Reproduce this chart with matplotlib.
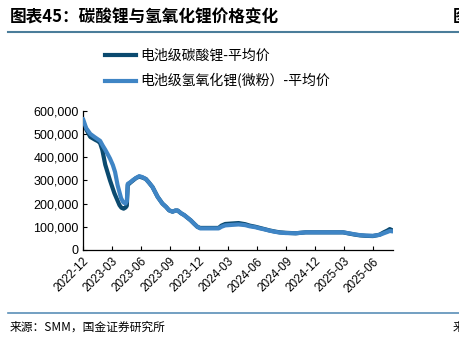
import matplotlib
matplotlib.use("Agg")
import matplotlib.pyplot as plt
import matplotlib.dates as mdates
import pandas as pd
from matplotlib.lines import Line2D

plt.rcParams['font.family'] = ['Liberation Sans', 'Noto Sans CJK SC', 'DejaVu Sans']

# 电池级碳酸锂 - 平均价 (元/吨)
carb_dates = ["2022-12-01", "2022-12-11", "2022-12-24", "2023-01-08", "2023-01-18", "2023-01-24",
              "2023-01-31", "2023-02-09", "2023-02-24", "2023-03-10", "2023-03-26", "2023-04-01",
              "2023-04-08", "2023-04-14", "2023-04-18", "2023-04-21", "2023-04-29", "2023-05-08",
              "2023-05-17", "2023-05-27", "2023-06-06", "2023-06-17", "2023-06-27", "2023-07-08",
              "2023-07-16", "2023-07-24", "2023-08-08", "2023-08-20", "2023-08-29", "2023-09-09",
              "2023-09-18", "2023-09-25", "2023-10-06", "2023-10-16", "2023-10-25", "2023-11-05",
              "2023-11-16", "2023-11-26", "2023-12-05", "2024-01-02", "2024-02-01", "2024-02-10",
              "2024-02-22", "2024-03-13", "2024-04-04", "2024-04-25", "2024-05-09", "2024-05-27",
              "2024-06-10", "2024-06-27", "2024-07-11", "2024-07-29", "2024-08-12", "2024-08-30",
              "2024-10-01", "2024-11-01", "2024-11-28", "2025-01-18", "2025-02-27", "2025-03-21",
              "2025-04-06", "2025-04-21", "2025-05-10", "2025-06-01", "2025-06-22", "2025-07-05",
              "2025-07-17", "2025-07-24", "2025-08-02"]
carb_price = [550000, 520000, 487000, 475000, 468000, 460000,
              430000, 368000, 300000, 244000, 193000, 182000,
              178000, 183000, 190000, 280000, 290000, 300000,
              310000, 316000, 312000, 306000, 290000, 271000,
              250000, 229000, 200000, 185000, 171000, 165000,
              170000, 170000, 158000, 150000, 140000, 128000,
              113000, 100000, 95000, 95000, 95000, 105000,
              112000, 114000, 116000, 111000, 105000, 100000,
              95000, 89000, 84000, 79000, 76000, 74000,
              72000, 76000, 76000, 76000, 76000, 70000,
              66000, 63000, 61000, 60000, 66000, 76000,
              84000, 90000, 84000]

# 电池级氢氧化锂(微粉) - 平均价 (元/吨)
hyd_dates = ["2022-12-01", "2022-12-11", "2022-12-24", "2023-01-08", "2023-01-24", "2023-02-01",
             "2023-02-09", "2023-02-17", "2023-02-24", "2023-03-05", "2023-03-12", "2023-03-20",
             "2023-03-31", "2023-04-07", "2023-04-14", "2023-04-18", "2023-04-21", "2023-04-29",
             "2023-05-08", "2023-05-17", "2023-05-27", "2023-06-06", "2023-06-17", "2023-06-27",
             "2023-07-08", "2023-07-16", "2023-07-24", "2023-08-08", "2023-08-20", "2023-08-29",
             "2023-09-09", "2023-09-18", "2023-09-25", "2023-10-06", "2023-10-16", "2023-10-25",
             "2023-11-05", "2023-11-16", "2023-11-26", "2023-12-05", "2024-01-02", "2024-02-01",
             "2024-02-10", "2024-02-22", "2024-03-13", "2024-04-04", "2024-04-25", "2024-05-09",
             "2024-05-27", "2024-06-10", "2024-06-27", "2024-07-11", "2024-07-29", "2024-08-12",
             "2024-08-30", "2024-10-01", "2024-11-01", "2024-11-28", "2025-01-18", "2025-02-27",
             "2025-03-21", "2025-04-06", "2025-04-21", "2025-05-10", "2025-06-01", "2025-06-22",
             "2025-07-05", "2025-07-17", "2025-07-24", "2025-08-02"]
hyd_price = [565000, 525000, 500000, 485000, 470000, 450000,
             432000, 412000, 394000, 366000, 336000, 279000,
             223000, 205000, 200000, 210000, 285000, 292000,
             302000, 310000, 318000, 314000, 305000, 290000,
             271000, 250000, 229000, 200000, 185000, 171000,
             165000, 170000, 170000, 158000, 150000, 140000,
             128000, 113000, 100000, 93000, 93000, 93000,
             100000, 106000, 108000, 110000, 107000, 102000,
             98000, 93000, 88000, 83000, 78000, 75000,
             73000, 72000, 76000, 76000, 76000, 76000,
             71000, 67000, 64000, 62000, 61000, 65000,
             72000, 78000, 82000, 80000]

series_names = ["电池级碳酸锂-平均价", "电池级氢氧化锂(微粉）-平均价"]
series_colors = ["#0b4a6f", "#3f85c5"]

yticks = [0, 100000, 200000, 300000, 400000, 500000, 600000]
xtick_labels = ["2022-12", "2023-03", "2023-06", "2023-09", "2023-12", "2024-03",
                "2024-06", "2024-09", "2024-12", "2025-03", "2025-06"]

fig = plt.figure(figsize=(4.59, 3.37), dpi=100)
ax = fig.add_axes([0.1808, 0.2582, 0.676, 0.4133])

ax.plot(pd.to_datetime(carb_dates), carb_price, color=series_colors[0], lw=3,
        solid_capstyle='round', zorder=2)
ax.plot(pd.to_datetime(hyd_dates), hyd_price, color=series_colors[1], lw=3,
        solid_capstyle='round', zorder=3)

ax.set_xlim(pd.Timestamp("2022-12-01"), pd.Timestamp("2025-08-04"))
ax.set_ylim(0, 600000)
ax.set_yticks(yticks)
ax.set_yticklabels([f"{v:,}" for v in yticks], fontsize=9)
ax.set_xticks(pd.to_datetime([s + "-01" for s in xtick_labels]))
ax.set_xticklabels(xtick_labels, fontsize=8.5, rotation=45, ha='right',
                   rotation_mode='anchor')
ax.tick_params(direction='in', length=3, width=0.8, colors='black')
ax.tick_params(axis='x', pad=4)
ax.tick_params(axis='y', pad=3)
for s in ['top', 'right']:
    ax.spines[s].set_visible(False)
for s in ['left', 'bottom']:
    ax.spines[s].set_linewidth(0.9)

handles = [Line2D([], [], color=c, lw=3) for c in series_colors]
fig.legend(handles, series_names, loc='upper left', bbox_to_anchor=(105 / 459, 1 - 49 / 337),
           frameon=False, prop={'family': ['Noto Sans CJK SC'], 'size': 10},
           handlelength=2.25, handletextpad=0.3, labelspacing=0.75, borderpad=0,
           borderaxespad=0)

# title, rules and footer
fig.text(10 / 459, 1 - 17 / 337, "图表45：碳酸锂与氢氧化锂价格变化", fontsize=12,
         fontweight='bold', family=['Noto Sans CJK SC'], va='center', ha='left')
fig.text(453 / 459, 1 - 17 / 337, "图", fontsize=12, fontweight='bold',
         family=['Noto Sans CJK SC'], va='center', ha='left')
fig.add_artist(Line2D([8 / 459, 1], [1 - 32 / 337, 1 - 32 / 337], color='#4b7d9a', lw=1.5))
fig.add_artist(Line2D([8 / 459, 1], [1 - 313 / 337, 1 - 313 / 337], color='#5a8fb8', lw=1.2))
fig.text(10 / 459, 1 - 327 / 337, "来源：SMM，国金证券研究所", fontsize=8.5,
         family=['Noto Sans CJK SC'], va='center', ha='left')
fig.text(453 / 459, 1 - 327 / 337, "来", fontsize=8.5,
         family=['Noto Sans CJK SC'], va='center', ha='left')

fig.savefig("out.png", dpi=100)
